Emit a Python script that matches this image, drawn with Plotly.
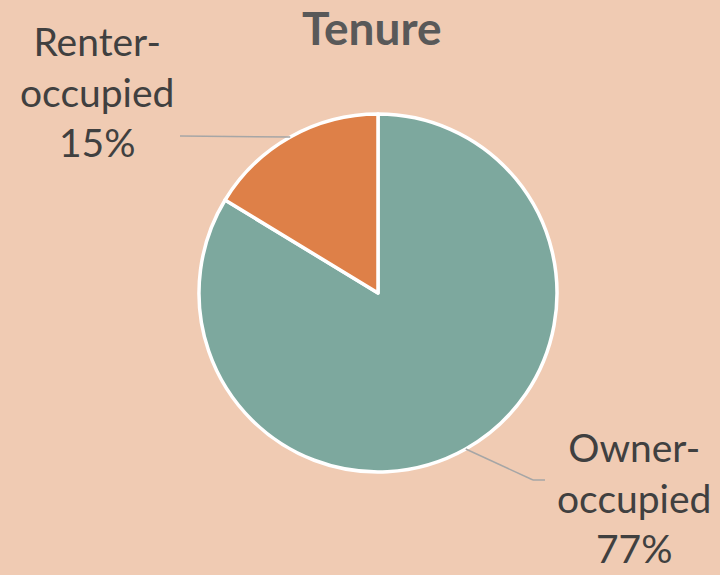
import math
import plotly.graph_objects as go

# Housing tenure shares (percent)
categories = ["Owner-occupied", "Renter-occupied"]
shares = [77, 15]
colors = ["#7DA89E", "#DE8048"]

W, H = 720, 575
BG = "#F0CBB3"

# Pie placement in pixels
cx, cy, r = 378, 293, 179
dom_x = [(cx - r) / W, (cx + r) / W]
dom_y = [1 - (cy + r) / H, 1 - (cy - r) / H]

fig = go.Figure(go.Pie(
    labels=categories,
    values=shares,
    sort=False,
    direction="clockwise",
    rotation=0,
    marker=dict(colors=colors, line=dict(color="white", width=3.5)),
    textinfo="none",
    hoverinfo="label+value",
    domain=dict(x=dom_x, y=dom_y),
    showlegend=False,
))

# Mid-angle of each slice (degrees clockwise from 12 o'clock)
total = sum(shares)
mids = []
acc = 0
for v in shares:
    mids.append((acc + v / 2) / total * 360)
    acc += v


def edge_point(deg):
    a = math.radians(deg)
    return cx + r * math.sin(a), cy - r * math.cos(a)


def to_paper(px, py):
    return px / W, 1 - py / H


# Leader-line elbows and label anchors (pixels)
label_layout = {
    "Owner-occupied": dict(path=[(533, 480), (545, 480)], text_xy=(634, 497)),
    "Renter-occupied": dict(path=[(180, 136)], text_xy=(97, 91)),
}

shapes = []
annotations = []
for name, v, mid in zip(categories, shares, mids):
    pts = [edge_point(mid)] + label_layout[name]["path"]
    for (x0, y0), (x1, y1) in zip(pts[:-1], pts[1:]):
        px0, py0 = to_paper(x0, y0)
        px1, py1 = to_paper(x1, y1)
        shapes.append(dict(type="line", xref="paper", yref="paper",
                           x0=px0, y0=py0, x1=px1, y1=py1,
                           line=dict(color="#A6A6A6", width=1.5)))
    tx, ty = to_paper(*label_layout[name]["text_xy"])
    head, tail = name.split("-")
    annotations.append(dict(
        xref="paper", yref="paper", x=tx, y=ty,
        text=f"{head}-<br>{tail}<br>{v}%",
        showarrow=False, xanchor="center", yanchor="middle",
        font=dict(family="Lato", size=39, color="#404040"),
    ))

annotations.append(dict(
    xref="paper", yref="paper", x=372 / W, y=1 - 28 / H,
    text="<b>Tenure</b>", showarrow=False,
    xanchor="center", yanchor="middle",
    font=dict(family="Lato", size=46, color="#595959"),
))

fig.update_layout(
    width=W, height=H,
    margin=dict(l=0, r=0, t=0, b=0),
    paper_bgcolor=BG, plot_bgcolor=BG,
    shapes=shapes, annotations=annotations,
)

fig.write_html("out.html")
